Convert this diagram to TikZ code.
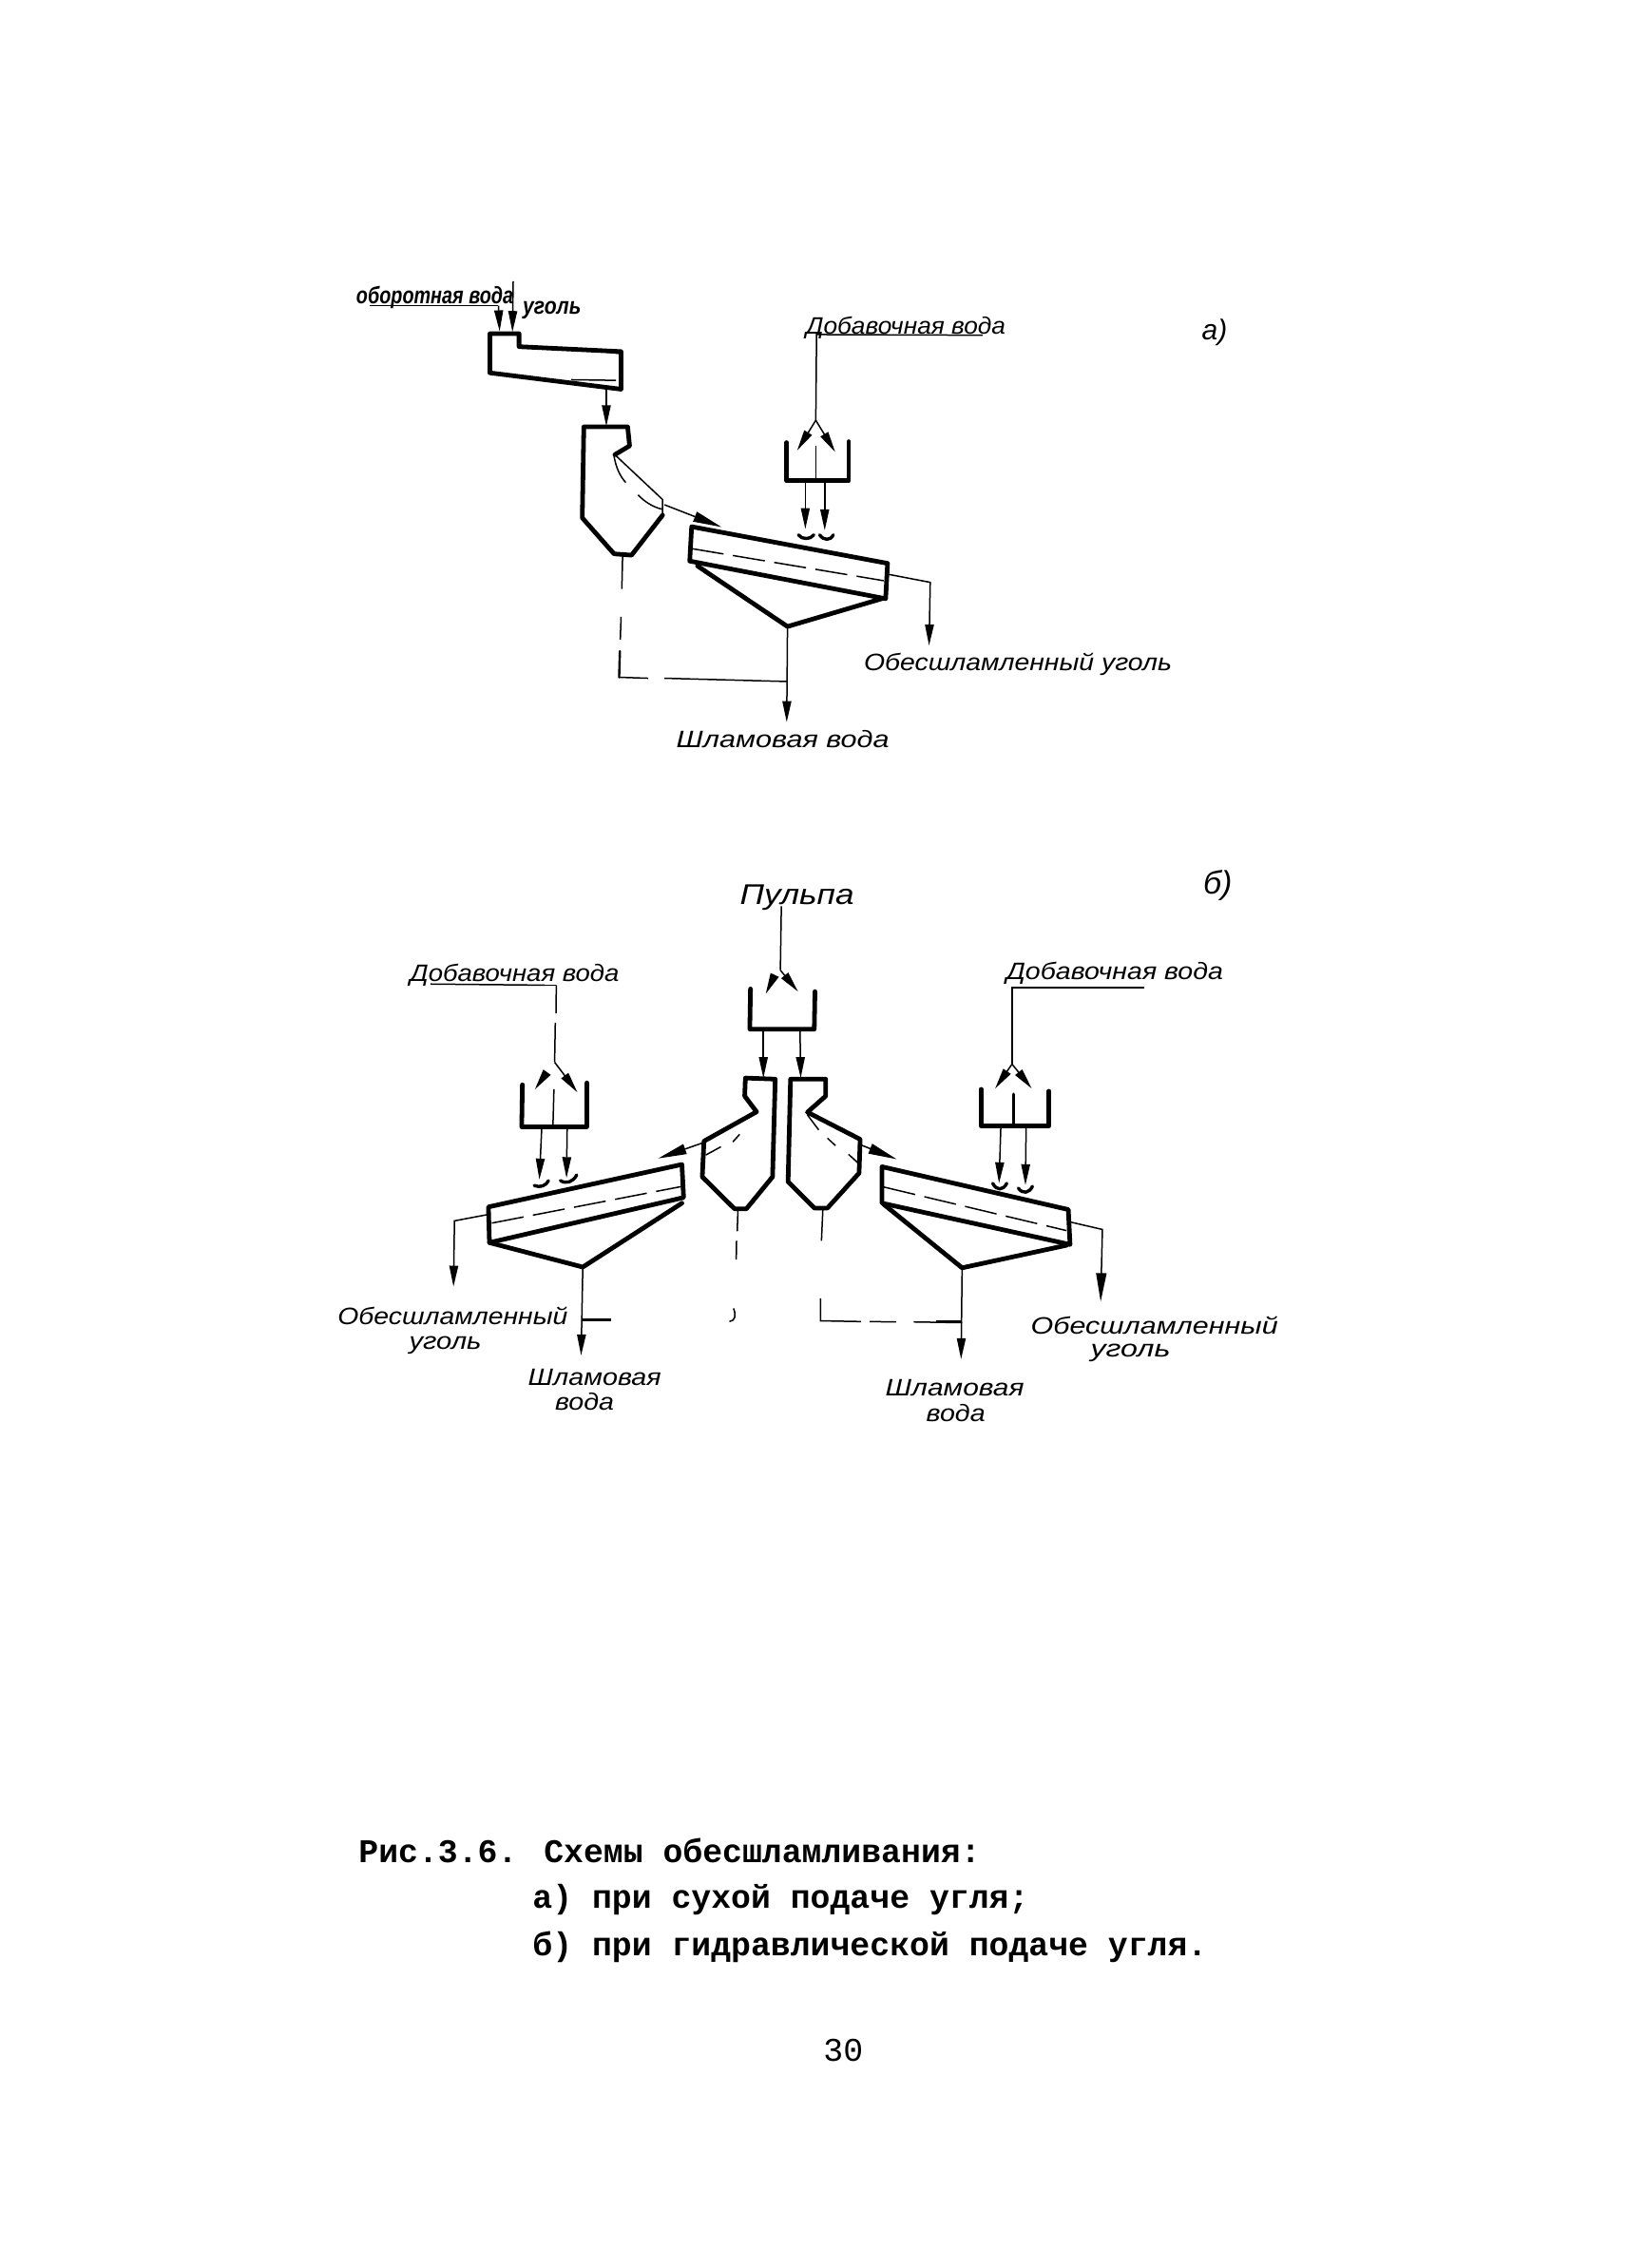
\documentclass[tikz,border=0pt]{standalone}
\usepackage{fontspec}
\usepackage{graphicx}
\setmainfont{Liberation Sans}
\newfontfamily\typew{Liberation Mono}
\usetikzlibrary{arrows.meta}
\tikzset{
  wall/.style={line width=2.4pt,line join=round,line cap=round,black},
  wallb/.style={line width=1.7pt,line join=round,line cap=round,black},
  thin line/.style={line width=0.75pt,black},
  flow/.style={line width=0.75pt,black,-{Stealth[length=11pt,width=4.6pt,inset=0pt]}},
  bigflow/.style={line width=0.75pt,black,-{Stealth[length=15pt,width=5.4pt,inset=0pt]}},
  screenline/.style={line width=0.75pt,black,dash pattern=on 17pt off 5pt},
  lab/.style={inner sep=0pt,font=\fontsize{12.5}{14}\selectfont\itshape},
  labb/.style={inner sep=0pt,font=\fontsize{12.5}{14}\selectfont\itshape\bfseries},
  captext/.style={inner sep=0pt,anchor=base west,font=\fontsize{17.4}{20}\selectfont\typew\bfseries}
}
\newcommand{\lbl}[5]{\node[lab] (#1) at (#2,#3) {\resizebox{#4pt}{\height}{#5}};}
\newcommand{\lblb}[5]{\node[labb] (#1) at (#2,#3) {\resizebox{#4pt}{\height}{#5}};}
\begin{document}
\begin{tikzpicture}
\useasboundingbox[fill=white] (0pt,0pt) rectangle (856pt,-1193pt);
% ---------- panel a
\begin{scope}[shift={(170pt,-135pt)},x=0.20408pt,y=-0.17218pt]
\lblb{aWater}{288}{125}{82.6}{оборотная вода}
\lblb{aCoal}{590}{165}{30.6}{уголь}
\lbl{aAdd}{1502}{218}{105}{Добавочная вода}
\lbl{aDesl}{1791}{1245}{162}{Обесшламленный уголь}
\lbl{aSlime}{1185}{1475}{112}{Шламовая вода}
\node[lab,font=\fontsize{15}{16}\selectfont\itshape] (aTag) at (2298,232) {а)};
\draw[thin line] (120,150) -- (450,150);
\coordinate (aW0) at (452,150); \coordinate (aW1) at (455,228);
\coordinate (aC0) at (490,75);  \coordinate (aC1) at (488,230);
\draw[flow] (aW0) -- (aW1);
\draw[flow] (aC0) -- (aC1);
% feeder
\draw[wall] (430,235) -- (505,235) -- (505,275) -- (768,290) -- (768,405) -- (430,355) -- cycle;
\draw[thin line] (705,288) -- (765,296);
\draw[thin line] (640,376) -- (755,378);
\coordinate (aF) at (730,405); \coordinate (aCy) at (730,518);
\draw[flow] (aF) -- (aCy);
% cyclone
\draw[wall] (875,790) -- (795,912) -- (750,908) -- (668,798) -- (672,520) -- (785,520) -- (790,578) -- (752,605);
\draw[thin line] (752,605) -- (875,742) -- (875,790);
\draw[thin line] (750,610) .. controls (755,645) and (765,670) .. (780,690);
\draw[thin line] (812,728) .. controls (830,750) and (850,765) .. (875,772);
\coordinate (aO0) at (880,758); \coordinate (aO1) at (1027,826);
\draw[bigflow] (aO0) -- (aO1);
% screen
\draw[wall] (950,825) -- (1455,937) -- (1450,1045) -- (945,930) -- cycle;
\draw[wall] (965,945) -- (1197,1130) -- (1440,1045);
\draw[screenline] (950,892) -- (1445,990);
\coordinate (aApex) at (1197,1130);
\coordinate (aE0) at (1455,970); \coordinate (aE1) at (1565,995); \coordinate (aE2) at (1562,1188);
\draw[flow] (aE0) -- (aE1) -- (aE2);
% drains
\draw[thin line] (772,915) -- (770,1015);
\draw[thin line] (768,1100) -- (766,1170);
\draw[wallb,line width=1.2pt] (765,1205) -- (763,1285);
\draw[thin line] (763,1285) -- (838,1288);
\draw[thin line] (880,1288) -- (1197,1298);
\coordinate (aS1) at (1195,1422);
\draw[flow] (aApex) -- (aS1);
% add water
\coordinate (aL) at (1272,238); \coordinate (aFk) at (1270,500);
\draw[thin line] (1700,240) -- (aL) -- (aFk);
\draw[flow] (aFk) -- (1222,592);
\draw[flow] (aFk) -- (1320,597);
\draw[wall] (1195,568) -- (1195,685) -- (1355,685) -- (1355,565);
\draw[thin line] (1270,578) -- (1270,685);
\draw[flow] (1243,685) -- (1243,832);
\draw[flow] (1293,685) -- (1293,836);
\draw[wallb] (1225,850) .. controls (1235,865) and (1255,865) .. (1265,850);
\draw[wallb] (1280,850) .. controls (1290,868) and (1308,868) .. (1315,850);
\end{scope}
% ---------- panel b, left part
\begin{scope}[shift={(165pt,-450pt)},x=0.17857pt,y=-0.19771pt]
\lbl{bAdd}{592}{317}{110}{Добавочная вода}
\lbl{bDesl}{410}{1226}{121}{Обесшламленный}
\lbl{bCoal}{388}{1304}{38}{уголь}
\lbl{bSl}{828}{1389}{70}{Шламовая}
\lbl{bW}{798}{1454}{31}{вода}
\node[lab,font=\fontsize{15}{16}\selectfont\itshape] (bPulp) at (1424,112) {\resizebox{60pt}{\height}{Пульпа}};
\coordinate (bL) at (715,345); \coordinate (bFk) at (710,550);
\draw[thin line] (345,342) -- (680,345);
\draw[thin line] (680,345) -- (bL);
\draw[thin line] (bL) -- (714,420);
\draw[thin line] (712,445) -- (bFk);
\draw[flow] (685,580) -- (652,622);
\draw[flow] (bFk) -- (777,630);
\draw[wall] (615,610) -- (613,722) -- (805,722) -- (805,605);
\draw[thin line] (708,622) -- (705,722);
\draw[flow] (672,725) -- (665,862);
\draw[flow] (747,725) -- (745,858);
\draw[wallb] (650,878) .. controls (668,885) and (685,878) .. (692,865);
\draw[wallb] (727,865) .. controls (745,875) and (765,868) .. (775,850);
% screen
\draw[wall] (515,935) -- (1085,822) -- (1090,910) -- (518,1030) -- cycle;
\draw[wall] (518,1030) -- (793,1095) -- (1085,925);
\draw[screenline] (525,978) -- (1088,880);
\coordinate (bE0) at (515,955); \coordinate (bE1) at (415,972); \coordinate (bE2) at (412,1147);
\draw[flow] (bE0) -- (bE1) -- (bE2);
\coordinate (bApex) at (793,1095); \coordinate (bS1) at (788,1330);
\draw[flow] (bApex) -- (bS1);
\draw[line width=1.4pt] (793,1235) -- (875,1235);
% pulp
\coordinate (bP) at (1378,135); \coordinate (bPf) at (1375,305);
\draw[thin line] (bP) -- (bPf);
\draw[flow] (1352,330) -- (1332,368);
\draw[flow] (bPf) -- (1427,362);
\draw[wall] (1287,355) -- (1285,462) -- (1475,462) -- (1477,362);
\draw[flow] (1325,465) -- (1325,592);
\draw[flow] (1433,465) -- (1435,592);
% left cyclone
\draw[wall] (1272,592) -- (1360,595) -- (1352,855) -- (1275,940) -- (1240,940) -- (1145,855) -- (1150,760) -- (1305,682) -- (1270,640) -- cycle;
\draw[thin line] (1155,797) -- (1200,775);
\draw[thin line] (1235,762) -- (1255,742);
\coordinate (bO0) at (1145,765); \coordinate (bO1) at (1015,806);
\draw[bigflow] (bO0) -- (bO1);
\draw[thin line] (1250,945) -- (1248,1000);
\draw[thin line] (1246,1025) -- (1245,1075);
\draw[thin line] (1237,1205) .. controls (1245,1222) and (1243,1238) .. (1225,1240);
\end{scope}
% ---------- panel b, right part
\begin{scope}[shift={(390pt,-450pt)},x=0.18498pt,y=-0.19771pt]
\lbl{cAdd}{1062}{314}{114}{Добавочная вода}
\lbl{cDesl}{1175}{1249}{130}{Обесшламленный}
\lbl{cCoal}{1107}{1324}{42}{уголь}
\lbl{cSl}{607}{1416}{73}{Шламовая}
\lbl{cW}{610}{1484}{31}{вода}
\node[lab,font=\fontsize{17}{18}\selectfont\itshape] (cTag) at (1355,80) {б)};
% right cyclone
\draw[wall] (335,845) -- (245,938) -- (208,938) -- (133,868) -- (140,595) -- (240,595) -- (240,640) -- (188,683) -- (338,755) -- cycle;
\draw[thin line] (188,690) -- (220,730);
\draw[thin line] (245,752) -- (268,772);
\draw[thin line] (305,795) -- (332,818);
\coordinate (cO0) at (340,770); \coordinate (cO1) at (442,808);
\draw[bigflow] (cO0) -- (cO1);
% screen
\draw[wall] (400,828) -- (930,942) -- (935,1035) -- (400,925) -- cycle;
\draw[wall] (405,928) -- (628,1097) -- (925,1037);
\draw[screenline] (405,882) -- (925,998);
\coordinate (cE0) at (935,975); \coordinate (cE1) at (1027,995); \coordinate (cE2) at (1022,1187);
\draw[bigflow] (cE0) -- (cE1) -- (cE2);
\coordinate (cApex) at (628,1097); \coordinate (cS1) at (625,1340);
\draw[flow] (cApex) -- (cS1);
\draw[thin line] (232,940) -- (228,1025);
\draw[thin line] (225,1178) -- (225,1238) -- (340,1240);
\draw[thin line] (365,1240) -- (440,1241);
\draw[thin line] (490,1241) -- (628,1243);
\draw[line width=1.3pt] (555,1241) -- (628,1241);
% add water
\coordinate (cL) at (770,352); \coordinate (cFk) at (770,555);
\draw[thin line] (1147,352) -- (cL) -- (cFk);
\draw[flow] (cFk) -- (722,620);
\draw[flow] (cFk) -- (826,620);
\draw[wall] (682,622) -- (682,720) -- (875,720) -- (875,627);
\draw[wallb] (775,635) -- (775,720);
\draw[flow] (738,725) -- (733,872);
\draw[flow] (810,725) -- (808,877);
\draw[wallb] (715,872) .. controls (725,892) and (745,892) .. (755,872);
\draw[wallb] (788,885) .. controls (800,902) and (820,898) .. (828,880);
\end{scope}
% ---------- caption
\begin{scope}[x=0.5pt,y=-0.5pt]
\node[captext] (cap1) at (377,1959) {Рис.3.6. Схемы обесшламливания:};
\node[captext] (cap2) at (560,2007) {а) при сухой подаче угля;};
\node[captext] (cap3) at (560,2057) {б) при гидравлической подаче угля.};
\node[captext,font=\fontsize{17.4}{20}\selectfont\typew] (pg) at (866,2168) {30};
\end{scope}
\end{tikzpicture}
\end{document}
